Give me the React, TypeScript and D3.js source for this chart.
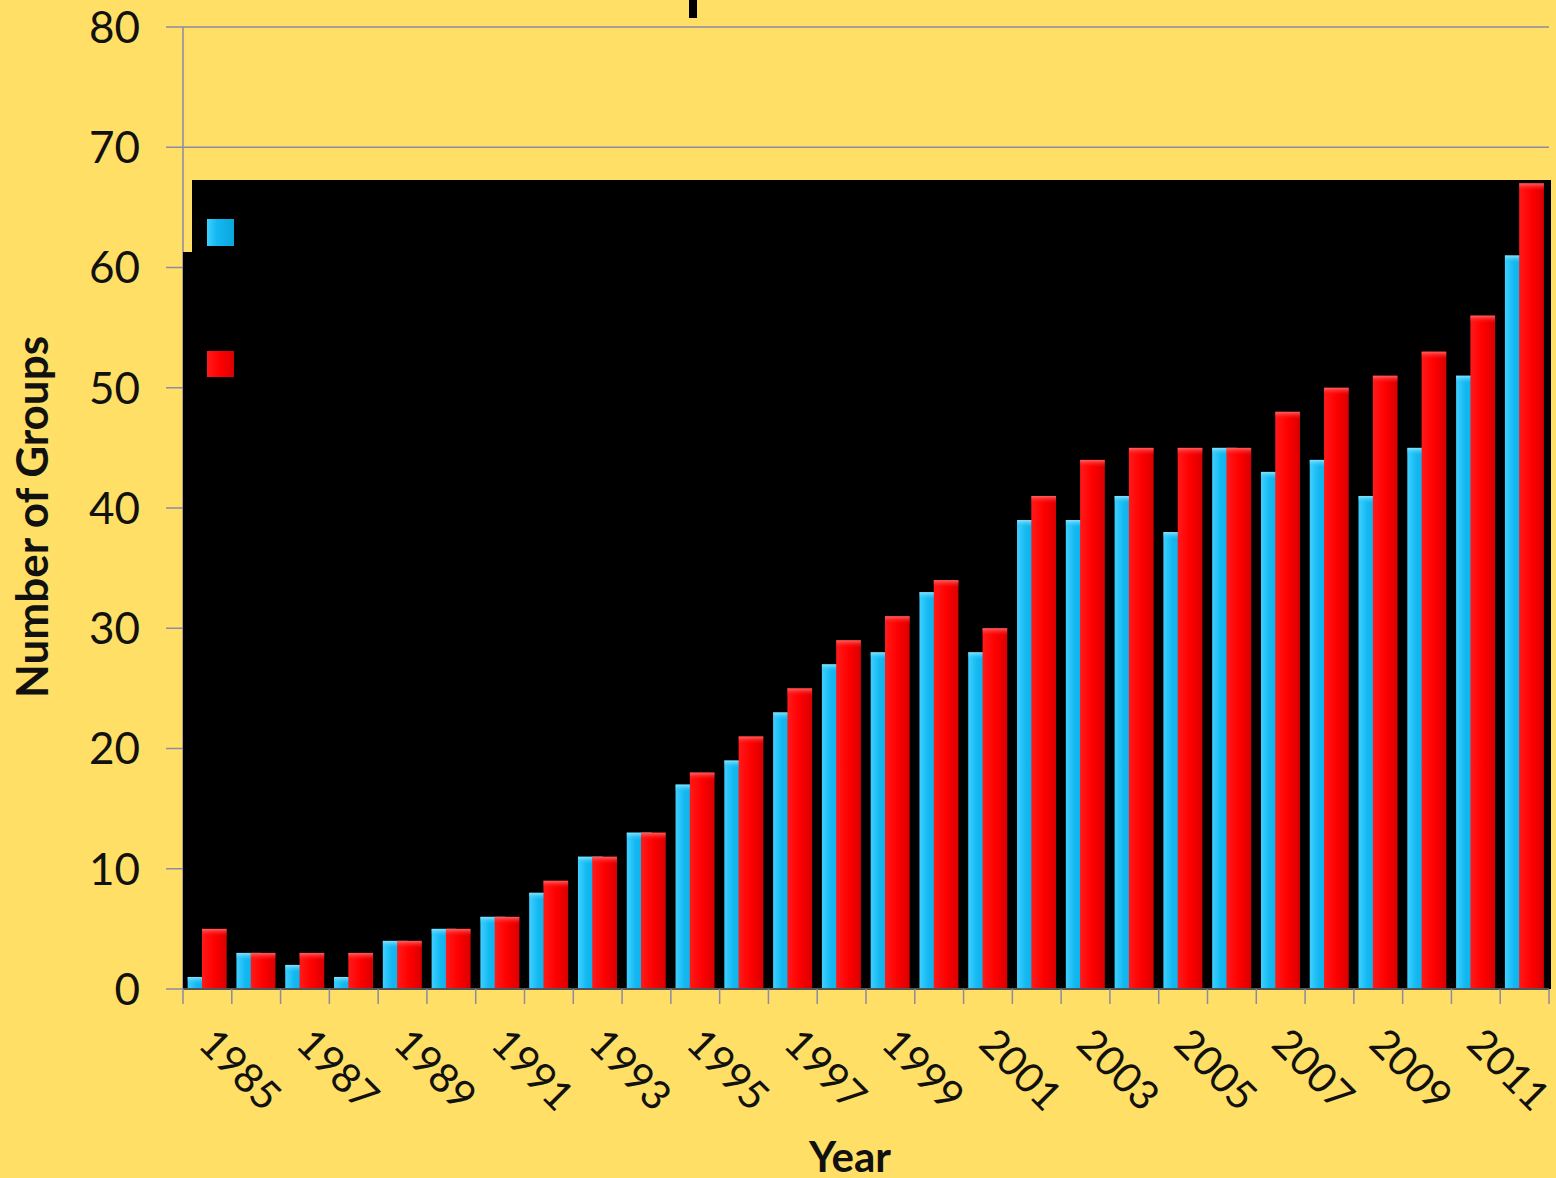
import * as d3 from 'd3'

const years = d3.range(1985, 2013).map(String)
const seriesA = [1, 3, 2, 1, 4, 5, 6, 8, 11, 13, 17, 19, 23, 27, 28, 33, 28, 39, 39, 41, 38, 45, 43, 44, 41, 45, 51, 61]
const seriesB = [5, 3, 3, 3, 4, 5, 6, 9, 11, 13, 18, 21, 25, 29, 31, 34, 30, 41, 44, 45, 45, 45, 48, 50, 51, 53, 56, 67]
const yTicks = [0, 10, 20, 30, 40, 50, 60, 70, 80]
const labelYears = years.filter((_, i) => i % 2 === 0)

const W = 1556
const H = 1178
const left = 183
const right = 1549
const top = 27
const bottom = 989
const font = 'Lato, "Open Sans", sans-serif'

export default function App() {
	const x = d3.scaleBand().domain(years).range([left, right]).padding(0)
	const y = d3.scaleLinear().domain([0, 80]).range([bottom, top])
	const bw = x.bandwidth()
	const barW = bw * 0.506
	const offA = bw * 0.096
	const offB = bw * 0.389

	const bar = (d: number, i: number, off: number, fill: string, hi: string) => {
		const x0 = x(years[i])! + off
		const y0 = y(d)
		const h = y(0) - y0
		return (
			<g key={i}>
				<rect x={x0} y={y0} width={barW} height={h} fill={fill} />
				<rect x={x0} y={y0} width={barW} height={Math.min(8, h)} fill={hi} />
			</g>
		)
	}

	return (
		<div style={{ position: 'absolute', left: 0, top: 0 }}>
			<svg width={W} height={H} style={{ display: 'block' }}>
				<defs>
					<linearGradient id='gBlue' x1='0' x2='1' y1='0' y2='0'>
						<stop offset='0' stopColor='#3fd0ff' />
						<stop offset='0.35' stopColor='#14b9f2' />
						<stop offset='1' stopColor='#0aa6dc' />
					</linearGradient>
					<linearGradient id='gRed' x1='0' x2='1' y1='0' y2='0'>
						<stop offset='0' stopColor='#ff1a1a' />
						<stop offset='0.5' stopColor='#ff0000' />
						<stop offset='1' stopColor='#d90000' />
					</linearGradient>
					<linearGradient id='hBlue' x1='0' x2='0' y1='0' y2='1'>
						<stop offset='0' stopColor='#8fe9ff' stopOpacity={0.9} />
						<stop offset='1' stopColor='#14b9f2' stopOpacity={0} />
					</linearGradient>
					<linearGradient id='hRed' x1='0' x2='0' y1='0' y2='1'>
						<stop offset='0' stopColor='#ff7a7a' stopOpacity={0.8} />
						<stop offset='1' stopColor='#ff0000' stopOpacity={0} />
					</linearGradient>
				</defs>
				<rect width={W} height={H} fill='#ffdf66' />

				{/* remnant of cut-off title */}
				<rect x={689} y={0} width={8} height={18} fill='#000' />

				{/* gridlines and y ticks */}
				{yTicks.map((t) => (
					<g key={t}>
						<line x1={left} x2={right} y1={y(t)} y2={y(t)} stroke='#8c8aa6' strokeWidth={1.5} />
						<line x1={left - 17} x2={left} y1={y(t)} y2={y(t)} stroke='#8c8aa6' strokeWidth={1.5} />
						<text x={140} y={y(t)} dy='0.36em' textAnchor='end' fontFamily={font} fontSize={44} fill='#111'>
							{t}
						</text>
					</g>
				))}
				<line x1={left} x2={left} y1={top} y2={bottom} stroke='#8c8aa6' strokeWidth={1.5} />

				{/* black legend box covering plot */}
				<rect x={192} y={180} width={1551 - 192} height={bottom - 180} fill='#000' />
				<rect x={left} y={252} width={10} height={bottom - 252} fill='#000' />
				<rect x={207} y={219} width={27} height={27} fill='url(#gBlue)' />
				<rect x={207} y={351} width={27} height={26} fill='url(#gRed)' />

				{seriesA.map((d, i) => bar(d, i, offA, 'url(#gBlue)', 'url(#hBlue)'))}
				{seriesB.map((d, i) => bar(d, i, offB, 'url(#gRed)', 'url(#hRed)'))}

				{/* x axis */}
				<line x1={left} x2={right} y1={bottom} y2={bottom} stroke='#555' strokeWidth={2} />
				{years.concat(['end']).map((yr, i) => {
					const tx = i < years.length ? x(yr)! : right
					return <line key={i} x1={tx} x2={tx} y1={bottom} y2={bottom + 15} stroke='#8c8aa6' strokeWidth={1.5} />
				})}
				{labelYears.map((yr) => {
					const cx = x(yr)! + bw / 2 - 11
					return (
						<text key={yr} transform={`translate(${cx},1046) rotate(45)`} fontFamily={font} fontSize={41} fill='#111'>
							{yr}
						</text>
					)
				})}

				<text x={850} y={1172} textAnchor='middle' fontFamily={font} fontWeight='bold' fontSize={42} fill='#111'>
					Year
				</text>
				<text transform='translate(48,517) rotate(-90)' textAnchor='middle' fontFamily={font} fontWeight='bold' fontSize={44} fill='#111'>
					Number of Groups
				</text>
			</svg>
		</div>
	)
}
